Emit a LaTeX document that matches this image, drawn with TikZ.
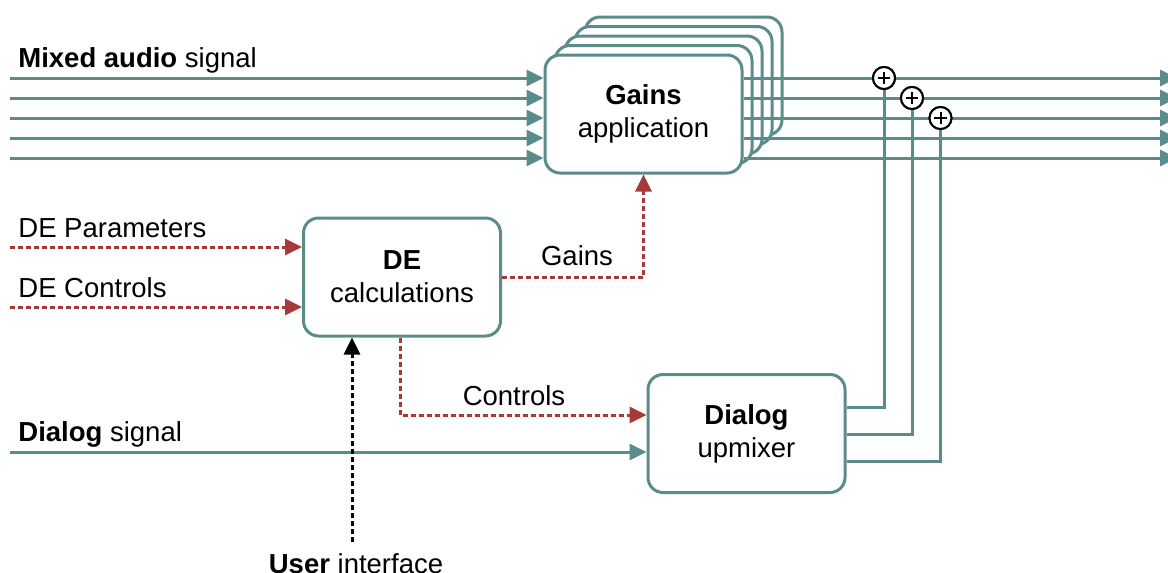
\documentclass[tikz,border=0pt]{standalone}
\usepackage{fontspec}
\setmainfont{Liberation Sans}
\usetikzlibrary{arrows.meta,calc}
\definecolor{sigteal}{HTML}{5B8C8C}
\definecolor{ctlred}{HTML}{A63A3A}
\begin{document}
\begin{tikzpicture}[x=0.5pt,y=-0.5pt,
  font=\fontsize{13.75}{16.5}\selectfont,
  tip/.style={-{Triangle[length=8.5pt,width=8pt]}},
  sig/.style={draw=sigteal, line width=1.5pt},
  sigarrow/.style={sig, tip},
  ctl/.style={draw=ctlred, line width=1.5pt, dash pattern=on 2.5pt off 1.5pt, tip},
  usr/.style={draw=black, line width=1.5pt, dash pattern=on 2.5pt off 1.5pt, tip},
  box/.style={draw=sigteal, line width=1.5pt, rounded corners=7.5pt, fill=white,
    minimum width=98.5pt, minimum height=59pt, align=center, inner sep=0pt},
  sum/.style={circle, draw=black, line width=1pt, fill=white, minimum size=11pt,
    inner sep=0pt, path picture={
      \draw[line width=1pt] ([xshift=-3.2pt]path picture bounding box.center) -- ([xshift=3.2pt]path picture bounding box.center)
        ([yshift=-3.2pt]path picture bounding box.center) -- ([yshift=3.2pt]path picture bounding box.center);}},
  lbl/.style={anchor=base west, inner sep=0pt}]
\useasboundingbox[fill=white] (0,0) rectangle (1168,573);

% stacked copies of the gains stage, back to front
\foreach \k in {4,3,2,1}{
  \node[box] (gcopy\k) at ({643.5+10*\k},{114-9.5*\k}) {};
}
\node[box] (gains) at (643.5,114) {\textbf{Gains}\\application};

% processing blocks
\node[box] (de) at (402,277) {\textbf{DE}\\calculations};
\node[box] (upmix) at (746.5,433.5) {\textbf{Dialog}\\upmixer};

% multichannel input and output busses
\foreach \i/\y in {1/78,2/98,3/118,4/138,5/158}{
  \coordinate (in\i) at (10,\y);
  \coordinate (out\i) at (1177,\y);
  \draw[sigarrow] (in\i) -- (in\i -| gains.west);
  \draw[sigarrow] (out\i -| gains.east) -- (out\i);
}

% upmixer outputs routed to the summing points
\node[sum] (s1) at (884,78) {};
\node[sum] (s2) at (912,98) {};
\node[sum] (s3) at (940.5,118) {};
\draw[sig] ([yshift=13.25pt]upmix.east) -| (s1.south);
\draw[sig] ([yshift=-0.25pt]upmix.east) -| (s2.south);
\draw[sig] ([yshift=-13.75pt]upmix.east) -| (s3.south);
\node[sum] at (s1) {};
\node[sum] at (s2) {};
\node[sum] at (s3) {};

% dialog input
\coordinate (dlg) at (10,452);
\draw[sigarrow] (dlg) -- (dlg -| upmix.west);

% control inputs
\coordinate (dep) at (10,247);
\coordinate (dec) at (10,307);
\draw[ctl] (dep) -- (dep -| de.west);
\draw[ctl] (dec) -- (dec -| de.west);

% control outputs of the DE block
\draw[ctl] (de.east) -| (gains.south);
\node at (577,256) {Gains};
\draw[ctl] ([xshift=-1pt]de.south) |- ([yshift=9.25pt]upmix.west);
\node at (514,396) {Controls};

% user interface
\coordinate (ui) at (352,542);
\draw[usr] (ui) -- (ui |- de.south);
\node[anchor=base] (uilbl) at (356,573) {\textbf{User} interface};

% labels
\node[lbl] (lmix) at (18,68) {\textbf{Mixed audio} signal};
\node[lbl] (lpar) at (18,237) {DE Parameters};
\node[lbl] (lctl) at (18,297) {DE Controls};
\node[lbl] (ldlg) at (18,441) {\textbf{Dialog} signal};
\end{tikzpicture}
\end{document}
